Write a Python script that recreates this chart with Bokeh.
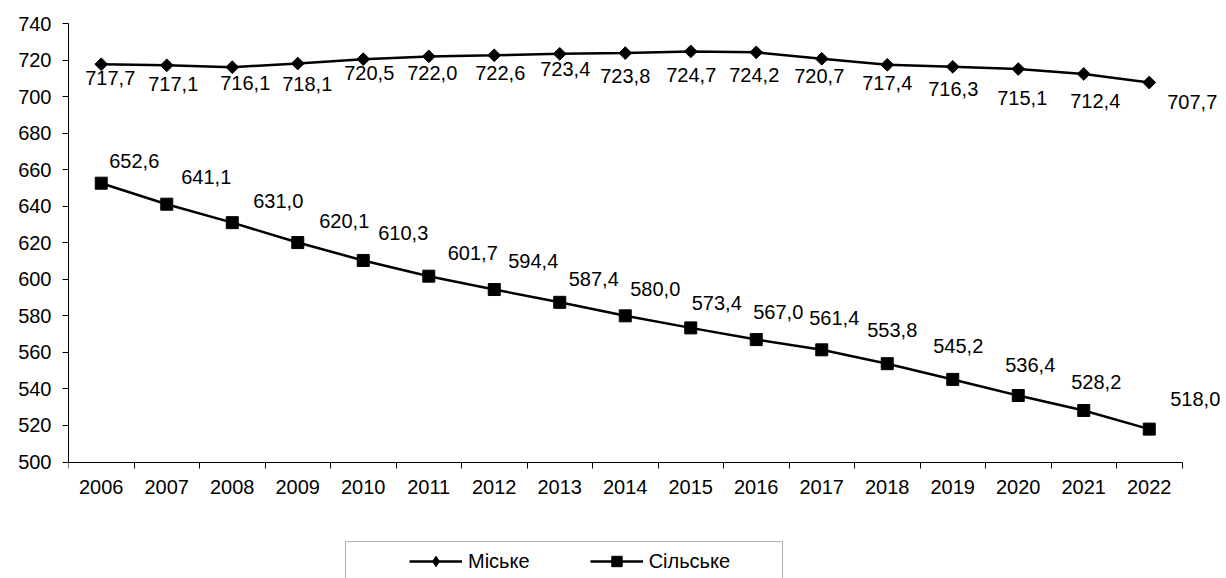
from bokeh.plotting import figure
from bokeh.models import (ColumnDataSource, FixedTicker, Range1d, Legend, LegendItem,
                          BoxAnnotation)
from bokeh.core.properties import value
from bokeh.embed import file_html
from bokeh.resources import INLINE
import math

years = list(range(2006, 2023))
urban = [717.7, 717.1, 716.1, 718.1, 720.5, 722.0, 722.6, 723.4, 723.8, 724.7,
         724.2, 720.7, 717.4, 716.3, 715.1, 712.4, 707.7]
rural = [652.6, 641.1, 631.0, 620.1, 610.3, 601.7, 594.4, 587.4, 580.0, 573.4,
         567.0, 561.4, 553.8, 545.2, 536.4, 528.2, 518.0]
y_ticks = list(range(500, 741, 20))
series_names = ["Міське", "Сільське"]

# label placement (screen px offsets from each point)
urban_dx = [9, 6.5, 13, 9.5, 6, 3.5, 6, 5.5, 0, 0.5, -2, -2.5, 0, 0.5, 4, 11.5, 43]
urban_dy = [14, 18.5, 16, 20, 14, 17, 18, 15.5, 23, 24, 23, 17, 18, 22, 29, 27, 19]
rural_dx = [33, 39.5, 46, 46.5, 40, 44, 39, 34, 30, 26, 22, 12.5, 5, 5.5, 12, 12.5, 46]
rural_dy = [-22, -27, -22, -22, -27, -23, -29, -23, -26.5, -24.5, -27.5, -32, -34, -33,
            -30, -28, -30]

FONT = "Liberation Sans"
FS = "20px"

def fmt(v):
    return f"{v:.1f}".replace(".", ",")

src_u = ColumnDataSource(dict(x=years, y=urban, t=[fmt(v) for v in urban],
                              dx=urban_dx, dy=urban_dy))
src_r = ColumnDataSource(dict(x=years, y=rural, t=[fmt(v) for v in rural],
                              dx=rural_dx, dy=rural_dy))

W, H = 1226, 578
left, top = 68, 23
px_per_year = 65.5
px_per_unit = 438.5 / (y_ticks[-1] - y_ticks[0])
frame_w = W - left
frame_h = H - top
x_start = years[0] - 0.5
x_end = x_start + frame_w / px_per_year
y_end = y_ticks[-1]
y_start = y_end - frame_h / px_per_unit

p = figure(frame_width=frame_w, frame_height=frame_h,
           min_border_left=left, min_border_right=0, min_border_top=top,
           min_border_bottom=0,
           x_range=Range1d(x_start, x_end),
           y_range=Range1d(y_start, y_end),
           output_backend="svg", toolbar_location=None)
p.outline_line_color = None
p.xgrid.visible = False
p.ygrid.visible = False
p.background_fill_color = "white"
p.border_fill_color = "white"

l1 = p.line("x", "y", source=src_u, line_color="black", line_width=2.5)
m1 = p.scatter("x", "y", source=src_u, marker="square", size=9, angle=math.pi / 4,
               fill_color="black", line_color="black")
l2 = p.line("x", "y", source=src_r, line_color="black", line_width=2.5)
m2 = p.scatter("x", "y", source=src_r, marker="square", size=12,
               fill_color="black", line_color="black")
# legend-only diamond (zero size in the plot; the legend sizes its own glyph)
m1_leg = p.scatter("x", "y", source=src_u, marker="diamond", size=0,
                   fill_color="black", line_color="black")

for s in (src_u, src_r):
    p.text("x", "y", text="t", source=s, x_offset="dx", y_offset="dy",
           text_font=value(FONT), text_font_size=FS, text_color="black",
           text_align="center", text_baseline="middle")

# x axis at y = 500
bounds = [y - 0.5 for y in years] + [years[-1] + 0.5]
xa = p.xaxis[0]
xa.fixed_location = y_ticks[0]
xa.ticker = FixedTicker(ticks=years, minor_ticks=bounds)
xa.bounds = (bounds[0], bounds[-1])
xa.major_tick_out = 0
xa.major_tick_in = 0
xa.minor_tick_out = 6
xa.minor_tick_in = 0
xa.minor_tick_line_color = "black"
xa.axis_line_color = "black"
xa.major_label_standoff = 12
xa.major_label_text_font = FONT
xa.major_label_text_font_size = FS
xa.major_label_text_color = "black"

ya = p.yaxis[0]
ya.ticker = FixedTicker(ticks=y_ticks)
ya.bounds = (y_ticks[0], y_ticks[-1])
ya.major_tick_out = 6
ya.major_tick_in = 0
ya.minor_tick_line_color = None
ya.major_tick_line_color = "black"
ya.axis_line_color = "black"
ya.major_label_standoff = 11
ya.major_label_text_font = FONT
ya.major_label_text_font_size = FS
ya.major_label_text_color = "black"

legend = Legend(items=[LegendItem(label=series_names[0], renderers=[l1, m1_leg]),
                       LegendItem(label=series_names[1], renderers=[l2, m2])],
                location=(341, 4), orientation="horizontal", spacing=60,
                glyph_width=53, glyph_height=26, label_height=26, label_standoff=6,
                padding=0, margin=0, border_line_color=None, background_fill_alpha=0,
                label_text_font=FONT, label_text_font_size=FS, label_text_color="black")
p.add_layout(legend)

box = BoxAnnotation(left=345, right=782, top=541, bottom=640,
                    left_units="canvas", right_units="canvas",
                    top_units="canvas", bottom_units="canvas",
                    fill_alpha=0, line_color="black", line_width=1)
p.add_layout(box)

open("out.html", "w").write(file_html(p, INLINE))
